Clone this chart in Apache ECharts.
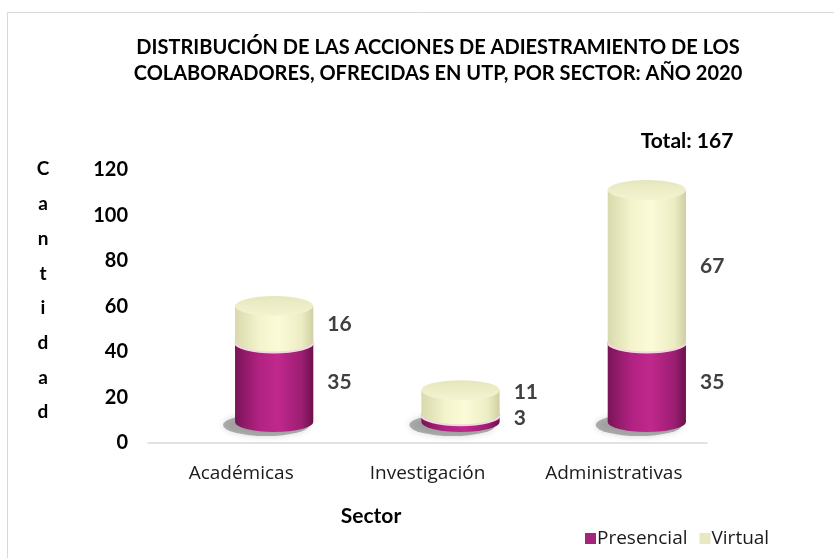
<!DOCTYPE html>
<html>
<head>
<meta charset="utf-8">
<script src="https://cdn.jsdelivr.net/npm/echarts@6/dist/echarts.min.js"></script>
<style>
html,body{margin:0;padding:0;background:#fff;}
#chart{width:834px;height:558px;}
</style>
</head>
<body>
<div id="chart"></div>
<script>
const categories = ['Académicas', 'Investigación', 'Administrativas'];
const presencial = [35, 3, 35];
const virtual = [16, 11, 67];
const yTicks = { min: 0, max: 120, interval: 20 };
const seriesNames = ['Presencial', 'Virtual'];

const FONT = '"Open Sans", Lato, sans-serif';
const BFONT = 'Lato, "Open Sans", sans-serif';
const DEPTH_X = 33, DEPTH_Y = -21;

const chart = echarts.init(document.getElementById('chart'));

function ellipsePath(cx, cy, rx, ry) {
  return `M${cx - rx},${cy} A${rx},${ry} 0 1 0 ${cx + rx},${cy} A${rx},${ry} 0 1 0 ${cx - rx},${cy} Z`;
}

const pinkSide = new echarts.graphic.LinearGradient(0, 0, 1, 0, [
  { offset: 0, color: '#7a1458' }, { offset: 0.3, color: '#b02282' },
  { offset: 0.55, color: '#c0288c' }, { offset: 0.85, color: '#9c1e72' }, { offset: 1, color: '#6d114e' }
]);
const creamSide = new echarts.graphic.LinearGradient(0, 0, 1, 0, [
  { offset: 0, color: '#d9d9ad' }, { offset: 0.3, color: '#f3f3cc' },
  { offset: 0.55, color: '#fbfbd9' }, { offset: 0.85, color: '#ededc4' }, { offset: 1, color: '#cfcfa3' }
]);
const pinkTop = '#b72787';
const creamTop = new echarts.graphic.LinearGradient(0, 0, 0, 1, [
  { offset: 0, color: '#e6e6bd' }, { offset: 1, color: '#f4f4d2' }
]);

function makeRender(kind) {
  return function (params, api) {
    const i = api.value(0), v0 = api.value(1), v1 = api.value(2);
    const pb = api.coord([i, v0]);
    const pt = api.coord([i, v1]);
    const band = api.size([1, 0])[0];
    const rx = band * 0.21, ry = 10;
    const cx = pb[0] + DEPTH_X;
    const yb = pb[1] + DEPTH_Y, yt = pt[1] + DEPTH_Y;
    const children = [];
    if (v0 === 0) {
      children.push({
        type: 'path',
        shape: { pathData: ellipsePath(cx - 8, yb + 3, rx + 4, ry + 1) },
        style: { fill: 'rgba(90,90,90,0.45)', shadowBlur: 7, shadowColor: 'rgba(0,0,0,0.35)' },
        z2: 0
      });
    }
    children.push({
      type: 'path',
      shape: { pathData: `M${cx - rx},${yt} L${cx - rx},${yb} A${rx},${ry} 0 0 0 ${cx + rx},${yb} L${cx + rx},${yt} Z` },
      style: { fill: kind === 0 ? pinkSide : creamSide },
      z2: 1
    });
    if (kind === 1) {
      children.push({
        type: 'path',
        shape: { pathData: `M${cx - rx},${yb} A${rx},${ry} 0 0 0 ${cx + rx},${yb}` },
        style: { fill: null, stroke: '#f3d8df', lineWidth: 2 },
        z2: 2
      });
    }
    children.push({
      type: 'path',
      shape: { pathData: ellipsePath(cx, yt, rx, ry) },
      style: { fill: kind === 0 ? pinkTop : creamTop },
      z2: 3
    });
    let ly = (yb + yt) / 2;
    if (kind === 1) {
      const pLow = api.coord([i, 0]);
      const pLabel = (pLow[1] + pb[1]) / 2 + DEPTH_Y;
      ly = Math.min(ly, pLabel - 26);
    }
    children.push({
      type: 'text',
      x: cx + rx + 14, y: ly,
      style: {
        text: String(v1 - v0), fill: '#404040', font: `bold 21px ${BFONT}`,
        align: 'left', verticalAlign: 'middle'
      },
      z2: 5
    });
    return { type: 'group', children };
  };
}

const presData = categories.map((c, i) => [i, 0, presencial[i]]);
const virtData = categories.map((c, i) => [i, presencial[i], presencial[i] + virtual[i]]);
const total = presencial.concat(virtual).reduce((a, b) => a + b, 0);

chart.setOption({
  animation: false,
  backgroundColor: '#fff',
  grid: { left: 148, right: 127, top: 170, bottom: 115 },
  xAxis: {
    type: 'category', data: categories,
    axisLine: { show: true, lineStyle: { color: '#d9d9d9', width: 1.5 } },
    axisTick: { show: false },
    axisLabel: { color: '#1a1a1a', fontFamily: FONT, fontSize: 19, margin: 21 }
  },
  yAxis: {
    type: 'value', min: yTicks.min, max: yTicks.max, interval: yTicks.interval,
    axisLine: { show: false }, axisTick: { show: false }, splitLine: { show: false },
    axisLabel: { color: '#000', fontFamily: BFONT, fontSize: 20, fontWeight: 'bold', margin: 20 }
  },
  legend: {
    left: 580, top: 524, itemWidth: 11, itemHeight: 11, itemGap: 12, icon: 'rect',
    textStyle: { color: '#1a1a1a', fontFamily: FONT, fontSize: 19, padding: [0, 0, 0, -4] },
    data: seriesNames
  },
  graphic: [
    { type: 'rect', shape: { x: 7.5, y: 12.5, width: 900, height: 600 }, style: { fill: null, stroke: '#d9d9d9', lineWidth: 1 }, silent: true },
    { type: 'text', x: 438, y: 48, style: { text: 'DISTRIBUCIÓN DE LAS ACCIONES DE ADIESTRAMIENTO DE LOS', font: `bold 20px ${BFONT}`, fill: '#000', align: 'center', verticalAlign: 'middle' } },
    { type: 'text', x: 438, y: 74, style: { text: 'COLABORADORES, OFRECIDAS EN UTP, POR SECTOR: AÑO 2020', font: `bold 20px ${BFONT}`, fill: '#000', align: 'center', verticalAlign: 'middle' } },
    { type: 'text', x: 687, y: 141, style: { text: 'Total: ' + total, font: `bold 21px ${BFONT}`, fill: '#000', align: 'center', verticalAlign: 'middle' } },
    { type: 'text', x: 371, y: 516, style: { text: 'Sector', font: `bold 21px ${BFONT}`, fill: '#000', align: 'center', verticalAlign: 'middle' } },
    { type: 'text', x: 43, y: 152, style: { text: 'C\na\nn\nt\ni\nd\na\nd', font: `bold 19px ${BFONT}`, lineHeight: 34.7, fill: '#000', align: 'center', verticalAlign: 'top' } }
  ],
  series: [
    { name: seriesNames[0], type: 'custom', renderItem: makeRender(0), data: presData, encode: { x: 0, y: [1, 2] }, itemStyle: { color: '#a3257c' }, z: 2 },
    { name: seriesNames[1], type: 'custom', renderItem: makeRender(1), data: virtData, encode: { x: 0, y: [1, 2] }, itemStyle: { color: '#e8e8c2' }, z: 3 }
  ]
});
</script>
</body>
</html>
